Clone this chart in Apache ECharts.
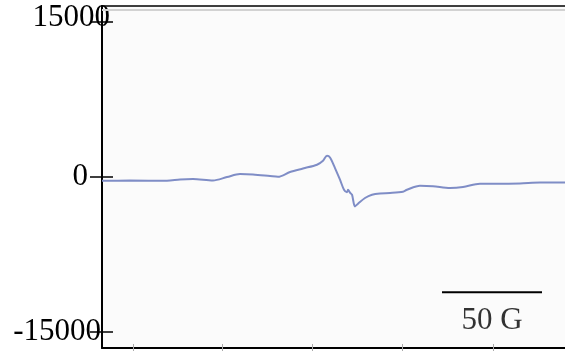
<!DOCTYPE html>
<html>
<head>
<meta charset="utf-8">
<script src="https://cdn.jsdelivr.net/npm/echarts@6/dist/echarts.min.js"></script>
<style>
html,body{margin:0;padding:0;background:#fff;}
#c{width:565px;height:355px;}
</style>
</head>
<body>
<div id="c"></div>
<script>
// Magnetic field offset (G) and EPR signal (a.u.)
const fieldG = [0, 14, 32.5, 39, 45.5, 55.5, 62.5, 69, 75.5, 84, 88, 94, 100.5, 107.5, 110.5, 112.5, 114, 116.5, 119, 121, 122.5, 123, 124, 125, 126.5, 128, 131.5, 135, 139, 144, 150.5, 152.5, 159, 165.5, 174, 180.5, 189, 197.5, 209, 219, 231.5];
const signal = [-415, -405, -415, -290, -250, -385, -60, 230, 190, 40, -30, 425, 770, 1130, 1515, 2000, 1835, 810, -320, -1285, -1525, -1285, -1575, -1765, -2900, -2635, -2085, -1765, -1640, -1600, -1480, -1285, -900, -945, -1120, -1025, -705, -705, -675, -590, -590];
const yTicks = [-15000, 0, 15000];
const xTicks = [15.5, 60, 105, 150, 195.5];
const scaleBarX = [170, 220];
const scaleBarY = -11200;
const scaleBarText = '50 G';

const lineData = fieldG.map((g, i) => [g, signal[i]]);
const yMin = -16590, yMax = 16480, xMin = 0, xMax = 231.5;
const serif = 'Liberation Serif';

const chart = echarts.init(document.getElementById('c'), null, {renderer: 'canvas'});
chart.setOption({
  animation: false,
  grid: {left: 102, right: 0, top: 6, bottom: 7, show: true, backgroundColor: '#fbfbfb', borderWidth: 0},
  xAxis: [
    {type: 'value', min: xMin, max: xMax, position: 'bottom',
     axisLine: {show: true, onZero: false, lineStyle: {color: '#000', width: 2}},
     axisTick: {show: true, inside: true, length: 4, customValues: xTicks, lineStyle: {color: '#aaa', width: 1}},
     axisLabel: {show: false}, splitLine: {show: false}},
    {type: 'value', min: xMin, max: xMax, position: 'bottom',
     axisLine: {show: false, onZero: false},
     axisTick: {show: true, inside: false, length: 3, customValues: xTicks, lineStyle: {color: '#aaa', width: 1}},
     axisLabel: {show: false}, splitLine: {show: false}},
    {type: 'value', min: xMin, max: xMax, position: 'top',
     axisLine: {show: true, onZero: false, lineStyle: {color: '#000', width: 1.5}},
     axisTick: {show: false}, axisLabel: {show: false}, splitLine: {show: false}}
  ],
  yAxis: [
    {type: 'value', min: yMin, max: yMax, position: 'left',
     axisLine: {show: true, onZero: false, lineStyle: {color: '#000', width: 2}},
     axisTick: {show: true, inside: false, length: 12, customValues: yTicks, lineStyle: {color: '#000', width: 1.5}},
     axisLabel: {show: true, customValues: yTicks, margin: -8, align: 'right',
       formatter: function (v) {
         if (v === 15000) return '{a|' + v + '}';
         if (v === 0) return '{b|' + v + '}';
         return '{c|' + v + '}';
       },
       rich: {
         a: {fontFamily: serif, fontSize: 31, color: '#000', padding: [0, 0, 6, 0]},
         b: {fontFamily: serif, fontSize: 31, color: '#000', padding: [0, 22, 0, 0]},
         c: {fontFamily: serif, fontSize: 31, color: '#000', padding: [0, 9, 0, 0]}
       }},
     splitLine: {show: false}},
    {type: 'value', min: yMin, max: yMax, position: 'left',
     axisLine: {show: false, onZero: false},
     axisTick: {show: true, inside: true, length: 11, customValues: yTicks, lineStyle: {color: '#000', width: 1.5}},
     axisLabel: {show: false}, splitLine: {show: false}}
  ],
  series: [
    {type: 'line', data: lineData, xAxisIndex: 0, yAxisIndex: 0, symbol: 'none', smooth: 0.3,
     lineStyle: {color: '#7f8dc6', width: 2}, silent: true,
     markLine: {silent: true, symbol: 'none', label: {show: false},
       lineStyle: {color: '#d2d2d2', width: 2, type: 'solid'},
       data: [{yAxis: 16150}]}},
    {type: 'line', data: scaleBarX.map(x => [x, scaleBarY]), xAxisIndex: 0, yAxisIndex: 0,
     symbol: 'none', lineStyle: {color: '#000', width: 2}, silent: true},
    {type: 'scatter', data: [[(scaleBarX[0] + scaleBarX[1]) / 2, scaleBarY]], xAxisIndex: 0, yAxisIndex: 0,
     symbolSize: 0, silent: true,
     label: {show: true, position: 'bottom', distance: 13, formatter: scaleBarText,
       fontFamily: serif, fontSize: 31, color: '#000', textBorderWidth: 0}}
  ]
});
</script>
</body>
</html>
